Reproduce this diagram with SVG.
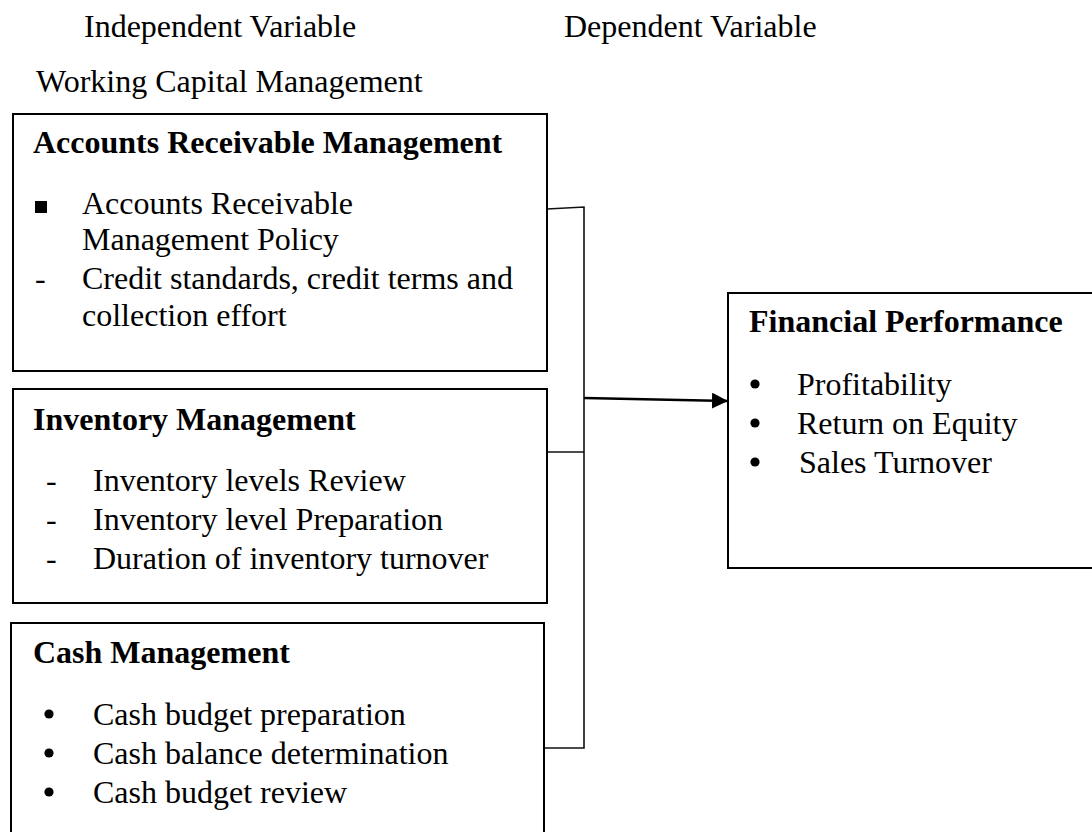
<svg xmlns="http://www.w3.org/2000/svg" width="1092" height="832" viewBox="0 0 1092 832">
  <defs>
    <style>
      text { font-family: "Liberation Serif", "Times New Roman", serif; font-size: 32px; fill: #000; }
      .b { font-weight: bold; }
      .box { fill: #fff; stroke: #000; stroke-width: 2; }
      .line { fill: none; stroke: #111; stroke-width: 1.6; }
      .dot { fill: #000; }
    </style>
    <marker id="arrow" viewBox="0 0 16 16" refX="16" refY="8" markerWidth="16" markerHeight="16" markerUnits="userSpaceOnUse" orient="auto">
      <path d="M0,0 L16,8 L0,16 Z" fill="#000"/>
    </marker>
  </defs>
  <rect width="1092" height="832" fill="#fff"/>

  <g id="headers">
    <text x="84" y="37">Independent Variable</text>
    <text x="564" y="37">Dependent Variable</text>
    <text x="36" y="92">Working Capital Management</text>
  </g>

  <!-- bracket joining the three management boxes, then the arrow to the outcome box -->
  <g id="connectors">
    <polyline class="line" points="547,209 584,207 584,748 544,748"/>
    <line class="line" x1="547" y1="452" x2="584" y2="452"/>
    <line x1="584" y1="398" x2="728" y2="401" stroke="#000" stroke-width="2.4" marker-end="url(#arrow)"/>
  </g>

  <g id="receivable">
    <rect class="box" x="13" y="114" width="534" height="257"/>
    <text class="b" x="33" y="153">Accounts Receivable Management</text>
    <rect class="dot" x="35" y="201" width="12" height="12"/>
    <text x="82" y="214">Accounts Receivable</text>
    <text x="82" y="250">Management Policy</text>
    <text x="35" y="289">-</text>
    <text x="82" y="289">Credit standards, credit terms and</text>
    <text x="82" y="326">collection effort</text>
  </g>

  <g id="inventory">
    <rect class="box" x="13" y="389" width="534" height="214"/>
    <text class="b" x="33" y="430">Inventory Management</text>
    <text x="46" y="491">-</text>
    <text x="93" y="491">Inventory levels Review</text>
    <text x="46" y="530">-</text>
    <text x="93" y="530">Inventory level Preparation</text>
    <text x="46" y="569">-</text>
    <text x="93" y="569">Duration of inventory turnover</text>
  </g>

  <g id="cash">
    <rect class="box" x="11" y="623" width="533" height="220"/>
    <text class="b" x="33" y="663">Cash Management</text>
    <circle class="dot" cx="49" cy="714" r="4.6"/>
    <text x="93" y="725">Cash budget preparation</text>
    <circle class="dot" cx="49" cy="753" r="4.6"/>
    <text x="93" y="764">Cash balance determination</text>
    <circle class="dot" cx="49" cy="792" r="4.6"/>
    <text x="93" y="803">Cash budget review</text>
  </g>

  <g id="performance">
    <rect class="box" x="728" y="293" width="380" height="275"/>
    <text class="b" x="749" y="332">Financial Performance</text>
    <circle class="dot" cx="755" cy="384" r="4.6"/>
    <text x="797" y="395">Profitability</text>
    <circle class="dot" cx="755" cy="423" r="4.6"/>
    <text x="797" y="434">Return on Equity</text>
    <circle class="dot" cx="755" cy="462" r="4.6"/>
    <text x="799" y="473">Sales Turnover</text>
  </g>
</svg>
